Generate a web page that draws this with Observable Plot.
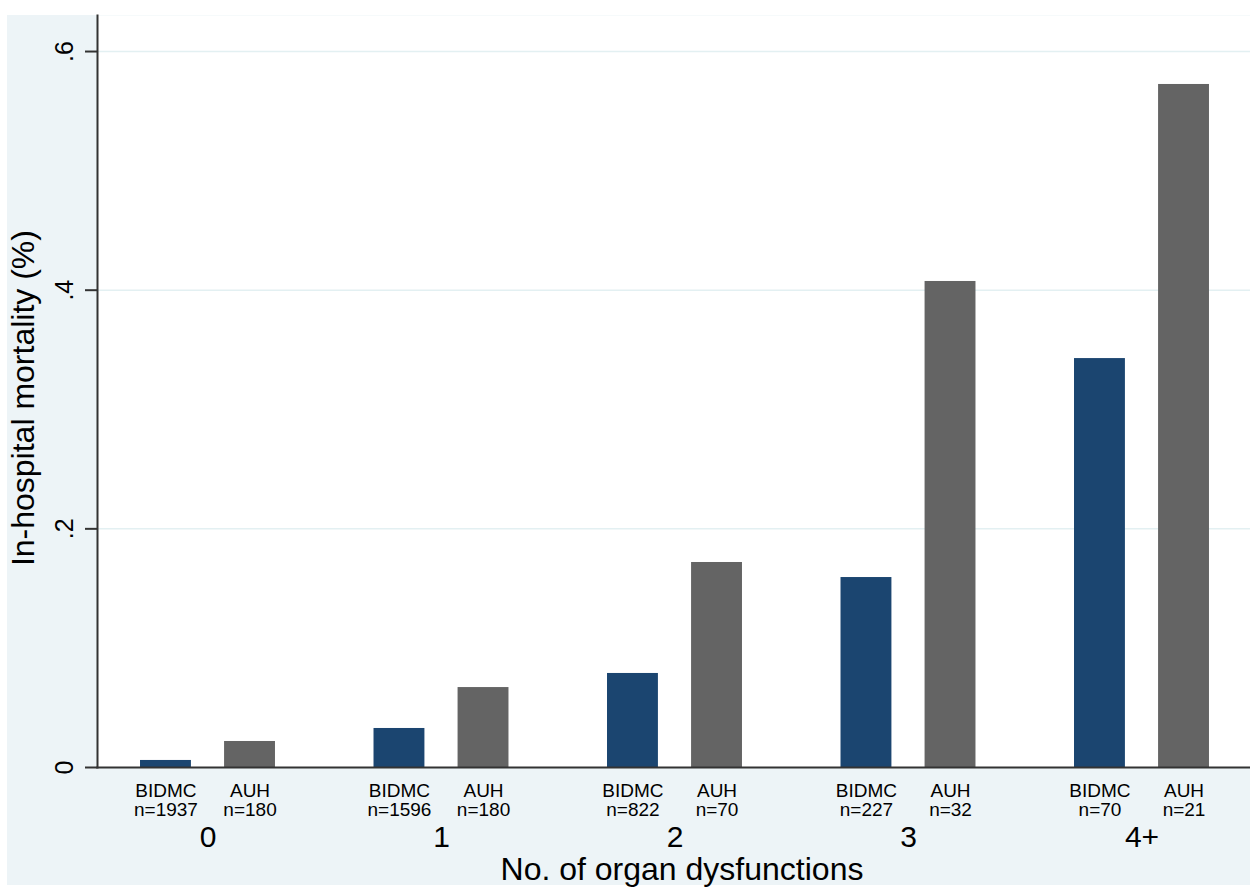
<!DOCTYPE html>
<html>
<head>
<meta charset="utf-8">
<script src="https://cdn.jsdelivr.net/npm/d3@7"></script>
<script src="https://cdn.jsdelivr.net/npm/@observablehq/plot@0.6"></script>
<style>
  html, body { margin: 0; padding: 0; background: #ffffff; }
  #wrap { position: relative; width: 1250px; height: 889px; }
  #bg { position: absolute; left: 7px; top: 15px; width: 1243px; height: 870px; background: #edf4f7; }
  #chart { position: absolute; left: 0; top: 0; }
  #chart svg { display: block; }
</style>
</head>
<body>
<div id="wrap"><div id="bg"></div><div id="chart"></div></div>
<script>
const groups = ["0", "1", "2", "3", "4+"];
const hospitals = ["BIDMC", "AUH"];
const bidmcValues = [0.0059, 0.0327, 0.0788, 0.1592, 0.3427];
const auhValues = [0.0218, 0.0670, 0.1718, 0.4073, 0.5724];
const bidmcN = [1937, 1596, 822, 227, 70];
const auhN = [180, 180, 70, 32, 21];
const yTicks = [0, 0.2, 0.4, 0.6];
const xTitle = "No. of organ dysfunctions";
const yTitle = "In-hospital mortality (%)";

const colors = {BIDMC: "#1b4570", AUH: "#646464"};
const offset = {BIDMC: -0.18, AUH: 0.18};
const halfWidth = 0.109;

const rows = [];
groups.forEach((g, i) => {
  rows.push({gi: i, group: g, hospital: "BIDMC", value: bidmcValues[i], n: bidmcN[i]});
  rows.push({gi: i, group: g, hospital: "AUH", value: auhValues[i], n: auhN[i]});
});
const groupRows = groups.map((g, i) => ({gi: i, group: g}));

const font = "'Liberation Sans', Arial, Helvetica, sans-serif";

const chart = Plot.plot({
  width: 1250,
  height: 889,
  marginLeft: 97,
  marginRight: 0,
  marginTop: 15,
  marginBottom: 122,
  style: {background: "transparent", fontFamily: font, color: "#000"},
  x: {domain: [-0.4732, 4.4647], axis: null},
  y: {domain: [0, 0.6302], axis: null},
  marks: [
    Plot.frame({fill: "#ffffff", stroke: null}),
    Plot.gridY(yTicks.filter(d => d > 0), {stroke: "#e3f0f2", strokeOpacity: 1, strokeWidth: 1.5}),
    Plot.rectY(rows, {
      x1: d => d.gi + offset[d.hospital] - halfWidth,
      x2: d => d.gi + offset[d.hospital] + halfWidth,
      y: "value",
      fill: d => colors[d.hospital]
    }),
    Plot.axisY({ticks: yTicks, tickSize: 12, tickFormat: () => "", label: null, stroke: "#333", strokeWidth: 2}),
    Plot.text(yTicks, {
      frameAnchor: "left",
      y: d => d,
      text: d => d === 0 ? "0" : String(d).replace("0.", "."),
      rotate: -90,
      textAnchor: "middle",
      lineAnchor: "bottom",
      dx: -25,
      fontSize: 25,
      fill: "#000"
    }),
    Plot.frame({anchor: "left", stroke: "#333", strokeWidth: 2}),
    Plot.frame({anchor: "bottom", stroke: "#333", strokeWidth: 2}),
    Plot.text(rows, {
      x: d => d.gi + offset[d.hospital],
      y: 0,
      text: d => `${d.hospital}\nn=${d.n}`,
      lineAnchor: "top",
      lineHeight: 1.0,
      dy: 16,
      fontSize: 19,
      fill: "#000"
    }),
    Plot.text(groupRows, {
      x: "gi",
      y: 0,
      text: "group",
      lineAnchor: "bottom",
      dy: 79,
      fontSize: 30,
      fill: "#000"
    }),
    Plot.text([xTitle], {
      x: 2,
      y: 0,
      text: d => d,
      lineAnchor: "bottom",
      dx: 7,
      dy: 112,
      fontSize: 32,
      fill: "#000"
    }),
    Plot.text([yTitle], {
      frameAnchor: "left",
      y: 0.3096,
      text: d => d,
      rotate: -90,
      textAnchor: "middle",
      lineAnchor: "bottom",
      dx: -64,
      fontSize: 32,
      fill: "#000"
    })
  ]
});
document.getElementById("chart").appendChild(chart);
</script>
</body>
</html>
